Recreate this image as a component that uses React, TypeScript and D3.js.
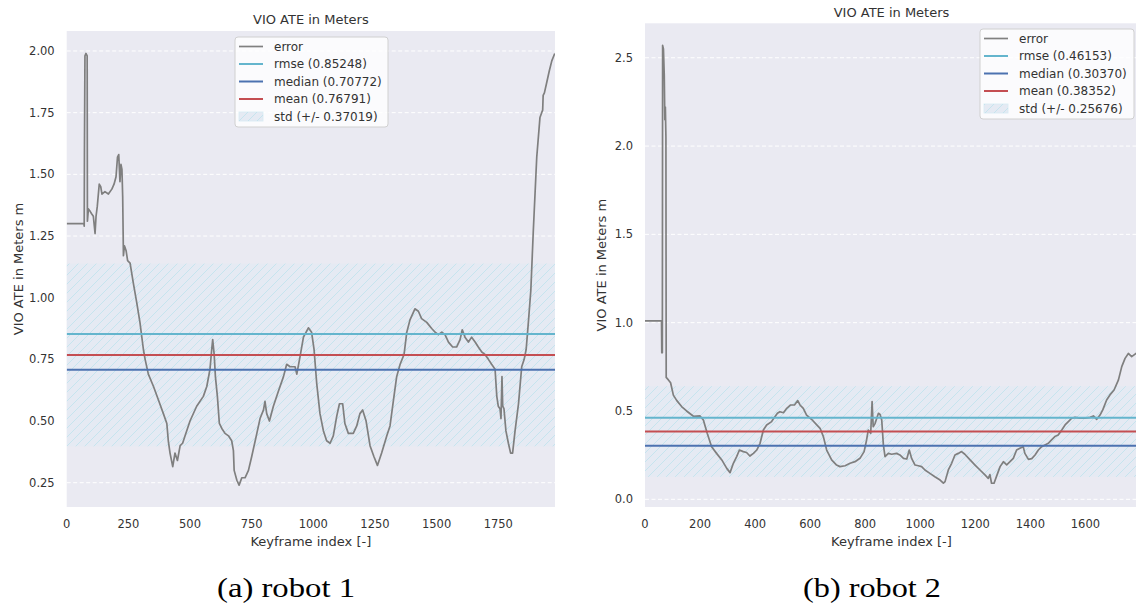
import React from 'react';
import * as d3 from 'd3';

// ---------- data ----------
const robot1Index = [0, 70, 71, 72, 74, 78, 83, 84, 88, 95, 101, 108, 115, 119, 124, 132, 138, 143, 155, 169, 183, 192, 200, 206, 211, 216, 220, 224, 227, 230, 234, 241, 247, 257, 270, 284, 297, 311, 318, 331, 352, 372, 392, 406, 412, 419, 430, 439, 449, 460, 470, 480, 500, 527, 554, 568, 581, 588, 592, 598, 603, 611, 619, 629, 642, 656, 669, 676, 679, 690, 699, 710, 723, 737, 750, 771, 784, 798, 804, 811, 822, 838, 858, 879, 892, 906, 926, 933, 946, 960, 980, 993, 1003, 1014, 1027, 1041, 1054, 1068, 1081, 1095, 1106, 1119, 1128, 1142, 1162, 1176, 1189, 1200, 1214, 1230, 1246, 1260, 1277, 1298, 1311, 1325, 1338, 1352, 1368, 1379, 1392, 1412, 1426, 1439, 1460, 1480, 1494, 1507, 1521, 1534, 1548, 1565, 1581, 1595, 1604, 1615, 1629, 1642, 1656, 1669, 1683, 1696, 1710, 1723, 1737, 1744, 1750, 1757, 1761, 1765, 1768, 1773, 1781, 1791, 1800, 1808, 1818, 1832, 1845, 1855, 1863, 1872, 1882, 1892, 1906, 1919, 1926, 1930, 1932, 1937, 1946, 1957, 1967, 1979];
const robot1Error = [1.30, 1.30, 1.29, 1.60, 1.98, 1.99, 1.98, 1.31, 1.36, 1.35, 1.34, 1.33, 1.26, 1.33, 1.37, 1.46, 1.45, 1.42, 1.43, 1.42, 1.44, 1.46, 1.49, 1.57, 1.58, 1.47, 1.54, 1.52, 1.41, 1.17, 1.21, 1.19, 1.15, 1.14, 1.06, 0.98, 0.90, 0.79, 0.75, 0.69, 0.64, 0.585, 0.53, 0.49, 0.42, 0.37, 0.315, 0.37, 0.34, 0.40, 0.41, 0.44, 0.50, 0.56, 0.60, 0.64, 0.71, 0.79, 0.83, 0.77, 0.68, 0.60, 0.49, 0.47, 0.45, 0.44, 0.42, 0.38, 0.30, 0.26, 0.24, 0.27, 0.27, 0.30, 0.355, 0.45, 0.51, 0.545, 0.58, 0.53, 0.50, 0.56, 0.62, 0.68, 0.73, 0.72, 0.72, 0.69, 0.76, 0.84, 0.878, 0.86, 0.79, 0.65, 0.53, 0.46, 0.42, 0.41, 0.44, 0.52, 0.57, 0.57, 0.49, 0.45, 0.45, 0.48, 0.53, 0.545, 0.50, 0.40, 0.355, 0.32, 0.37, 0.44, 0.48, 0.585, 0.68, 0.73, 0.77, 0.86, 0.91, 0.955, 0.945, 0.915, 0.90, 0.875, 0.86, 0.85, 0.86, 0.85, 0.82, 0.80, 0.80, 0.83, 0.87, 0.84, 0.82, 0.84, 0.82, 0.80, 0.78, 0.77, 0.75, 0.73, 0.71, 0.60, 0.56, 0.55, 0.51, 0.68, 0.56, 0.55, 0.46, 0.41, 0.37, 0.37, 0.46, 0.57, 0.72, 0.75, 0.79, 0.90, 1.03, 1.27, 1.57, 1.73, 1.75, 1.76, 1.82, 1.83, 1.87, 1.92, 1.96, 1.99];

const robot2Index = [0, 60, 61, 63, 64, 67, 70, 72, 74, 76, 77, 85, 93, 103, 115, 133, 151, 176, 200, 212, 226, 242, 260, 279, 297, 309, 321, 333, 343, 357, 369, 381, 394, 406, 418, 430, 442, 460, 472, 481, 490, 503, 515, 529, 543, 555, 563, 575, 587, 605, 624, 636, 648, 660, 678, 696, 708, 727, 745, 763, 781, 796, 805, 811, 820, 825, 829, 836, 842, 848, 854, 860, 866, 872, 884, 896, 914, 926, 939, 951, 960, 969, 981, 993, 1005, 1017, 1035, 1053, 1072, 1084, 1090, 1102, 1114, 1126, 1138, 1150, 1162, 1181, 1199, 1217, 1235, 1247, 1253, 1259, 1268, 1277, 1290, 1302, 1314, 1326, 1338, 1350, 1362, 1374, 1380, 1393, 1405, 1417, 1429, 1441, 1453, 1465, 1477, 1489, 1501, 1514, 1526, 1538, 1550, 1562, 1580, 1598, 1617, 1629, 1641, 1653, 1663, 1677, 1689, 1704, 1720, 1732, 1744, 1756, 1768, 1784, 1792];
const robot2Error = [1.01, 1.01, 0.83, 0.83, 2.57, 2.55, 2.40, 2.15, 2.22, 2.05, 0.69, 0.676, 0.66, 0.59, 0.56, 0.525, 0.50, 0.47, 0.472, 0.449, 0.374, 0.298, 0.26, 0.223, 0.175, 0.151, 0.204, 0.242, 0.279, 0.27, 0.265, 0.245, 0.26, 0.279, 0.317, 0.392, 0.421, 0.44, 0.468, 0.487, 0.496, 0.49, 0.515, 0.534, 0.534, 0.559, 0.534, 0.515, 0.477, 0.453, 0.421, 0.402, 0.355, 0.279, 0.223, 0.194, 0.185, 0.19, 0.204, 0.213, 0.232, 0.27, 0.336, 0.392, 0.374, 0.553, 0.411, 0.43, 0.459, 0.487, 0.48, 0.449, 0.308, 0.242, 0.26, 0.255, 0.26, 0.251, 0.232, 0.228, 0.279, 0.23, 0.194, 0.19, 0.185, 0.166, 0.147, 0.128, 0.109, 0.091, 0.10, 0.166, 0.204, 0.251, 0.26, 0.27, 0.255, 0.223, 0.194, 0.166, 0.138, 0.119, 0.14, 0.091, 0.091, 0.13, 0.185, 0.213, 0.195, 0.213, 0.232, 0.279, 0.289, 0.298, 0.26, 0.226, 0.23, 0.251, 0.279, 0.298, 0.308, 0.317, 0.336, 0.355, 0.364, 0.392, 0.421, 0.44, 0.459, 0.464, 0.46, 0.46, 0.464, 0.472, 0.453, 0.477, 0.506, 0.562, 0.591, 0.619, 0.676, 0.751, 0.798, 0.826, 0.808, 0.826, 0.83];

const statNames = ['rmse', 'median', 'mean'];
const statColors = ['#64B5CD', '#4C72B0', '#C44E52'];
const robot1StatValues = [0.85248, 0.70772, 0.76791];
const robot1Std = 0.37019;
const robot2StatValues = [0.46153, 0.3037, 0.38352];
const robot2Std = 0.25676;

const robot1XTicks = [0, 250, 500, 750, 1000, 1250, 1500, 1750];
const robot1YTicks = [0.25, 0.5, 0.75, 1.0, 1.25, 1.5, 1.75, 2.0];
const robot2XTicks = [0, 200, 400, 600, 800, 1000, 1200, 1400, 1600];
const robot2YTicks = [0.0, 0.5, 1.0, 1.5, 2.0, 2.5];

const captions = ['(a) robot 1', '(b) robot 2'];
const titleText = 'VIO ATE in Meters';
const xLabelText = 'Keyframe index [-]';
const yLabelText = 'VIO ATE in Meters m';

const SANS = 'DejaVu Sans, sans-serif';
const TEXT = '#333333';

type PanelProps = {
  id: string;
  x0: number; x1: number; y0: number; y1: number;
  xDomain: [number, number]; yDomain: [number, number];
  xs: number[]; ys: number[];
  xTicks: number[]; yTicks: number[]; yDigits: number;
  stats: number[]; std: number;
  legend: { x: number; y: number; w: number; h: number };
  titleY: number; yLabelX: number;
};

function Panel(p: PanelProps) {
  const xScale = d3.scaleLinear().domain(p.xDomain).range([p.x0, p.x1]);
  const yScale = d3.scaleLinear().domain(p.yDomain).range([p.y1, p.y0]);
  const pts = p.xs.map((x, i) => [x, p.ys[i]] as [number, number]);
  const line = d3.line<[number, number]>().x(d => xScale(d[0])).y(d => yScale(d[1]));
  const mean = p.stats[2];
  const bandTop = yScale(mean + p.std);
  const bandBot = yScale(mean - p.std);
  const cx = (p.x0 + p.x1) / 2;
  const cy = (p.y0 + p.y1) / 2;
  const fmt = d3.format(`.${p.yDigits}f`);
  const legendLabels = [
    'error',
    `${statNames[0]} (${p.stats[0].toFixed(5)})`,
    `${statNames[1]} (${p.stats[1].toFixed(5)})`,
    `${statNames[2]} (${p.stats[2].toFixed(5)})`,
    `std (+/- ${p.std.toFixed(5)})`,
  ];
  const legendColors = ['#808080', ...statColors];
  return (
    <g>
      <defs>
        <clipPath id={`clip-${p.id}`}>
          <rect x={p.x0} y={p.y0} width={p.x1 - p.x0} height={p.y1 - p.y0} />
        </clipPath>
        <pattern id={`hatch-${p.id}`} patternUnits="userSpaceOnUse" width={9} height={9}>
          <path d="M0,9 L9,0 M-3,3 L3,-3 M6,12 L12,6" stroke="#c6e4ee" strokeWidth={1} />
        </pattern>
      </defs>
      <rect x={p.x0} y={p.y0} width={p.x1 - p.x0} height={p.y1 - p.y0} fill="#EAEAF2" />
      {p.yTicks.map(t => (
        <line key={t} x1={p.x0} x2={p.x1} y1={yScale(t)} y2={yScale(t)} stroke="#ffffff" strokeWidth={1} strokeDasharray="4,2.5" />
      ))}
      <g clipPath={`url(#clip-${p.id})`}>
        <rect x={p.x0} y={bandTop} width={p.x1 - p.x0} height={bandBot - bandTop} fill="#e5eaf3" />
        <rect x={p.x0} y={bandTop} width={p.x1 - p.x0} height={bandBot - bandTop} fill={`url(#hatch-${p.id})`} />
        <path d={line(pts) || ''} fill="none" stroke="#7f7f7f" strokeWidth={1.7} strokeLinejoin="round" />
        {p.stats.map((v, i) => (
          <line key={i} x1={p.x0} x2={p.x1} y1={yScale(v)} y2={yScale(v)} stroke={statColors[i]} strokeWidth={2} />
        ))}
      </g>
      {p.yTicks.map(t => (
        <text key={t} x={p.x0 - 12} y={yScale(t)} dy="0.35em" textAnchor="end" fontFamily={SANS} fontSize={11.5} fill={TEXT}>{fmt(t)}</text>
      ))}
      {p.xTicks.map(t => (
        <text key={t} x={xScale(t)} y={p.y1 + 21} textAnchor="middle" fontFamily={SANS} fontSize={11.5} fill={TEXT}>{t}</text>
      ))}
      <text x={cx} y={p.y1 + 39} textAnchor="middle" fontFamily={SANS} fontSize={13} fill={TEXT}>{xLabelText}</text>
      <text transform={`translate(${p.yLabelX},${cy}) rotate(-90)`} textAnchor="middle" dy="0.35em" fontFamily={SANS} fontSize={13} fill={TEXT}>{yLabelText}</text>
      <text x={cx} y={p.titleY} textAnchor="middle" fontFamily={SANS} fontSize={13} fill={TEXT}>{titleText}</text>
      <rect x={p.legend.x} y={p.legend.y} width={p.legend.w} height={p.legend.h} rx={3} fill="#ffffff" fillOpacity={0.8} stroke="#d0d0d0" strokeWidth={1} />
      {legendLabels.map((lab, i) => {
        const ly = p.legend.y + 9.5 + i * 17.5;
        return (
          <g key={i}>
            {i < 4 ? (
              <line x1={p.legend.x + 4} x2={p.legend.x + 28} y1={ly} y2={ly} stroke={legendColors[i]} strokeWidth={i === 0 ? 1.7 : 2} />
            ) : (
              <g>
                <rect x={p.legend.x + 4} y={ly - 4.5} width={24} height={9} fill="#e5eaf3" stroke="#d6ecf3" strokeWidth={0.8} />
                <rect x={p.legend.x + 4} y={ly - 4.5} width={24} height={9} fill={`url(#hatch-${p.id})`} />
              </g>
            )}
            <text x={p.legend.x + 39} y={ly} dy="0.35em" fontFamily={SANS} fontSize={12} fill={TEXT}>{lab}</text>
          </g>
        );
      })}
    </g>
  );
}

export default function App() {
  return (
    <svg width={1136} height={605} style={{ position: 'absolute', left: 0, top: 0, background: '#ffffff' }}>
      <rect x={0} y={0} width={1136} height={605} fill="#ffffff" />
      <Panel
        id="r1"
        x0={66.7} x1={555} y0={31} y1={507}
        xDomain={[0, 1980]} yDomain={[0.1515, 2.081]}
        xs={robot1Index} ys={robot1Error}
        xTicks={robot1XTicks} yTicks={robot1YTicks} yDigits={2}
        stats={robot1StatValues} std={robot1Std}
        legend={{ x: 235, y: 37, w: 153, h: 90 }}
        titleY={24} yLabelX={18}
      />
      <Panel
        id="r2"
        x0={645} x1={1138} y0={23.3} y1={507}
        xDomain={[0, 1791]} yDomain={[-0.0436, 2.695]}
        xs={robot2Index} ys={robot2Error}
        xTicks={robot2XTicks} yTicks={robot2YTicks} yDigits={1}
        stats={robot2StatValues} std={robot2Std}
        legend={{ x: 980, y: 29, w: 154, h: 90 }}
        titleY={17} yLabelX={601}
      />
      {captions.map((c, i) => (
        <text key={c} x={i === 0 ? 286 : 872} y={597} textAnchor="middle" fontFamily="Liberation Serif, serif" fontSize={27} textLength={138} lengthAdjust="spacingAndGlyphs" fill="#000">{c}</text>
      ))}
    </svg>
  );
}
